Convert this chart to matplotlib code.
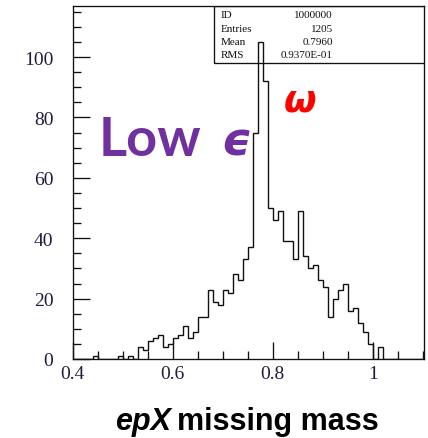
import numpy as np
import matplotlib
matplotlib.use("Agg")
import matplotlib.pyplot as plt
from matplotlib.patches import Rectangle
from matplotlib.ticker import MultipleLocator

# Histogram of the epX missing mass (bin width 0.01 GeV, 0.40 - 1.10)
bin_edges = np.round(np.arange(0.40, 1.1001, 0.01), 2)
counts = [
    0, 0, 0, 0, 1, 0, 0, 0, 0, 1,        # 0.40 - 0.49
    0, 1, 0, 4, 3, 6, 7, 8, 4, 5,        # 0.50 - 0.59
    7, 8, 11, 7, 9, 14, 14, 23, 19, 18,  # 0.60 - 0.69
    23, 22, 28, 26, 33, 37, 75, 105, 92, 50,  # 0.70 - 0.79
    46, 49, 39, 39, 33, 49, 34, 30, 31, 26,   # 0.80 - 0.89
    24, 14, 20, 23, 25, 16, 17, 12, 9, 5,     # 0.90 - 0.99
    0, 4, 0, 0, 0, 0, 0, 0, 0, 0,        # 1.00 - 1.09
]

stat_labels = ["ID", "Entries", "Mean", "RMS"]
stat_values = ["1000000", "1205", "0.7960", "0.9370E-01"]

x_ticks = [0.4, 0.6, 0.8, 1.0]
x_tick_labels = ["0.4", "0.6", "0.8", "1"]
y_ticks = [0, 20, 40, 60, 80, 100]

W, H = 428, 439
fig = plt.figure(figsize=(W / 100, H / 100), dpi=100)
fig.patch.set_facecolor("white")

# axes box in pixels: left 72.7, right 423.5, top 7.3, bottom 360
ax_l, ax_r, ax_t, ax_b = 72.7, 423.5, 7.3, 360.0
ax = fig.add_axes([ax_l / W, 1 - ax_b / H, (ax_r - ax_l) / W, (ax_b - ax_t) / H])

ax.stairs(counts, bin_edges, baseline=0, color="#111111", linewidth=1.0, zorder=3)

ax.set_xlim(0.4, 1.1016)
ax.set_ylim(0, 116.8)

for sp in ax.spines.values():
    sp.set_linewidth(0.95)
    sp.set_color("#111111")

ax.set_xticks(x_ticks)
ax.set_xticklabels(x_tick_labels)
ax.set_yticks(y_ticks)
ax.xaxis.set_minor_locator(MultipleLocator(0.05))
ax.yaxis.set_minor_locator(MultipleLocator(5))
ax.tick_params(which="both", direction="in", top=False, right=False,
               color="#111111", width=0.95)
ax.tick_params(which="major", length=12.2)
ax.tick_params(which="minor", length=5.8)
ax.tick_params(axis="y", which="major", pad=14.0)
ax.tick_params(axis="x", which="major", pad=4.5)
for lab in ax.get_xticklabels() + ax.get_yticklabels():
    lab.set_fontfamily("Liberation Serif")
    lab.set_fontsize(14)
    lab.set_color("#1e1e3c")

# statistics box in the top right corner
bx0 = (213.7 - ax_l) / (ax_r - ax_l)
by0 = (ax_b - 63.5) / (ax_b - ax_t)
ax.add_patch(Rectangle((bx0, by0), 1.2 - bx0, 1.0 - by0, transform=ax.transAxes,
                       fill=False, edgecolor="#111111", linewidth=0.95,
                       clip_on=True, zorder=2))
row_y = [15.5, 29.0, 42.5, 56.0]
lab_x = (220.5 - ax_l) / (ax_r - ax_l)
val_x = (332.7 - ax_l) / (ax_r - ax_l)
for lbl, val, yp in zip(stat_labels, stat_values, row_y):
    yf = (ax_b - yp) / (ax_b - ax_t)
    ax.text(lab_x, yf, lbl, transform=ax.transAxes, ha="left", va="center",
            fontsize=8, family="Liberation Serif", color="#111111")
    ax.text(val_x, yf, val, transform=ax.transAxes, ha="right", va="center",
            fontsize=8, family="Liberation Serif", color="#111111")


def px(x, y):
    return x / W, 1 - y / H


# annotations
fig.text(*px(99, 156), "Low", fontsize=39, fontweight="bold",
         family=["Lato", "DejaVu Sans"], color="#7030A0", ha="left", va="baseline")
fig.text(*px(221, 156), "\u03f5", fontsize=33, fontweight="bold", style="italic",
         family=["DejaVu Sans"], color="#7030A0", ha="left", va="baseline")
fig.text(*px(300, 112), "\u03c9", fontsize=27, fontweight="bold", style="italic",
         family=["DejaVu Sans"], color="#FF0000", ha="center", va="baseline")

# x axis title: italic "epX" followed by "missing mass"
t1 = fig.text(*px(115, 430), "epX", fontsize=22, fontweight="bold", style="italic",
              family="Liberation Sans", color="black", ha="left", va="baseline")
fig.canvas.draw()
bb = t1.get_window_extent(renderer=fig.canvas.get_renderer())
fig.text((bb.x1 + 6) / W, 1 - 430 / H, "missing mass", fontsize=22, fontweight="bold",
         family="Liberation Sans", color="black", ha="left", va="baseline")

fig.savefig("out.png", dpi=100, facecolor="white")
